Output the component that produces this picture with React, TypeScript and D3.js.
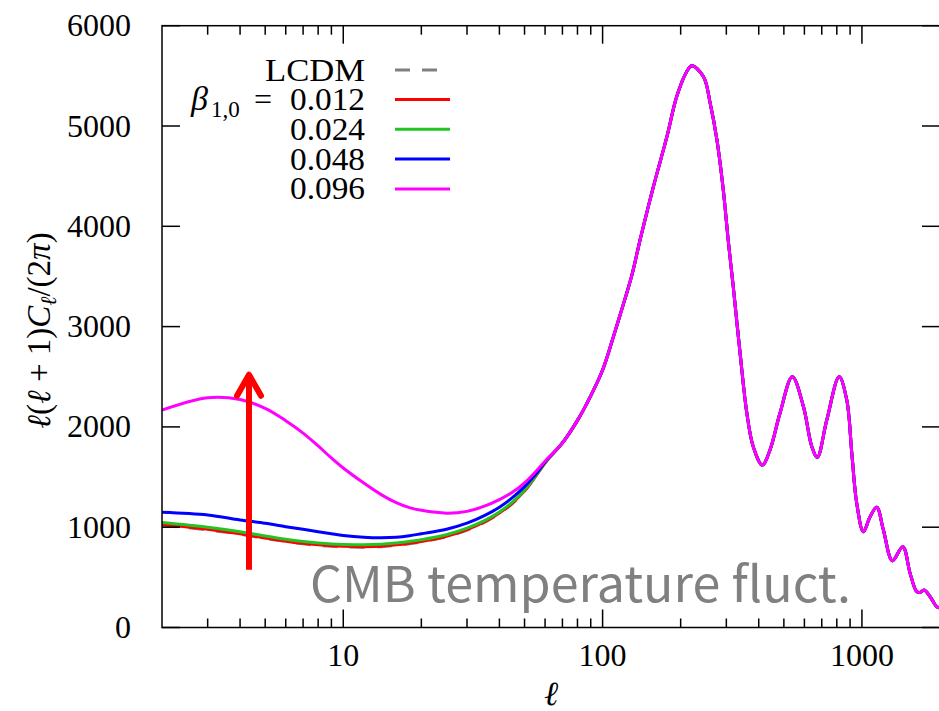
import React from "react";
import * as d3 from "d3";

// multipoles (low-ℓ part, series differ)
const ELL_LOW = [2, 3, 4, 5, 6, 7, 8, 9, 10, 12, 14, 16, 18, 20, 25, 30, 35, 40, 45, 50, 55, 60];
const LCDM_LOW = [1020, 973, 930, 888, 856, 834, 819, 809, 804, 801, 806, 819, 835, 853, 905, 972, 1048, 1138, 1238, 1360, 1500, 1640];
const B012_LOW = [1027, 980, 935, 893, 861, 839, 824, 814, 809, 806, 811, 824, 840, 858, 910, 977, 1053, 1142, 1242, 1362, 1502, 1642];
const B024_LOW = [1047, 1000, 955, 912, 880, 858, 843, 833, 828, 825, 830, 843, 858, 875, 925, 990, 1065, 1152, 1252, 1368, 1505, 1645];
const B048_LOW = [1149, 1122, 1072, 1039, 1005, 979, 955, 935, 918, 900, 895, 900, 915, 935, 980, 1040, 1115, 1200, 1297, 1405, 1522, 1650];
const B096_LOW = [2168, 2291, 2273, 2185, 2062, 1938, 1810, 1690, 1590, 1440, 1325, 1245, 1195, 1168, 1140, 1158, 1210, 1275, 1350, 1442, 1550, 1658];

// common high-ℓ part (all series coincide)
const ELL_HIGH = [70, 80, 90, 100, 110, 120, 130, 140, 157, 177, 193, 211, 221, 245, 260, 276, 292, 305, 319, 339, 360, 381, 413, 442, 483, 539, 595, 641, 673, 732, 817, 874, 914, 955, 1013, 1075, 1141, 1210, 1311, 1437, 1534, 1627, 1680, 1737, 1832, 1944, 2000];
const VAL_HIGH = [1840, 2065, 2310, 2567, 2896, 3215, 3524, 3883, 4395, 4893, 5292, 5541, 5600, 5491, 5226, 4860, 4362, 3863, 3398, 2734, 2136, 1803, 1620, 1770, 2136, 2500, 2201, 1803, 1697, 2069, 2500, 2268, 1737, 1238, 955, 1105, 1198, 972, 666, 806, 540, 357, 350, 374, 307, 207, 195];

const Y_TICKS = [0, 1000, 2000, 3000, 4000, 5000, 6000];
const X_MAJOR = [10, 100, 1000];
const X_LABELS = ["10", "100", "1000"];
const LEGEND_VALUES = ["0.012", "0.024", "0.048", "0.096"];
const ARROW = { l: 4.33, from: 575, to: 2520 };

const SERIES = [
  { name: "LCDM", low: LCDM_LOW, color: "#808080", dash: "15,12" },
  { name: "0.012", low: B012_LOW, color: "#ff0000", dash: null },
  { name: "0.024", low: B024_LOW, color: "#22c322", dash: null },
  { name: "0.048", low: B048_LOW, color: "#0000ff", dash: null },
  { name: "0.096", low: B096_LOW, color: "#ff00ff", dash: null },
];

const W = 939, H = 711;
const L = 162, R = 940, T = 25.7, B = 627.5;

const serif = '"Liberation Serif", "Times New Roman", Tinos, "DejaVu Serif", serif';

export default function App() {
  const x = d3.scaleLog().domain([2, 2000]).range([L, R]);
  const y = d3.scaleLinear().domain([0, 6000]).range([B, T]);
  const line = d3
    .line<[number, number]>()
    .x((d) => x(d[0]))
    .y((d) => y(d[1]))
    .curve(d3.curveCatmullRom.alpha(0.5));

  const minor: number[] = [];
  [1, 10, 100].forEach((dec) => {
    for (let k = 2; k <= 9; k++) {
      const v = k * dec;
      if (v > 2 && v < 2000) minor.push(v);
    }
  });

  const ax = { stroke: "#000", strokeWidth: 1.5, fill: "none" };
  const txt: React.CSSProperties = { fontFamily: serif, fontSize: 32 };

  return (
    <svg
      width={W}
      height={H}
      style={{ position: "fixed", left: 0, top: 0, background: "#fff" }}
    >
      <defs>
        <clipPath id="plot">
          <rect x={L} y={T} width={R - L} height={B - T} />
        </clipPath>
      </defs>
      <rect x={0} y={0} width={W} height={H} fill="#fff" />

      {/* curves */}
      <g clipPath="url(#plot)">
        {SERIES.map((s) => {
          const pts: [number, number][] = [
            ...ELL_LOW.map((l, i) => [l, s.low[i]] as [number, number]),
            ...ELL_HIGH.map((l, i) => [l, VAL_HIGH[i]] as [number, number]),
          ];
          return (
            <path
              key={s.name}
              d={line(pts) || ""}
              fill="none"
              stroke={s.color}
              strokeWidth={3}
              strokeDasharray={s.dash || undefined}
            />
          );
        })}
      </g>

      {/* frame */}
      <rect x={L} y={T} width={R - L} height={B - T} {...ax} />

      {/* y ticks */}
      {Y_TICKS.map((t) => (
        <g key={"y" + t}>
          <line x1={L} x2={L + 18} y1={y(t)} y2={y(t)} {...ax} />
          <line x1={R - 18} x2={R} y1={y(t)} y2={y(t)} {...ax} />
          <text x={131} y={y(t) + 10.5} textAnchor="end" style={txt} fill="#000">
            {t}
          </text>
        </g>
      ))}

      {/* x ticks */}
      {X_MAJOR.map((t, i) => (
        <g key={"x" + t}>
          <line x1={x(t)} x2={x(t)} y1={B} y2={B - 18} {...ax} />
          <line x1={x(t)} x2={x(t)} y1={T} y2={T + 18} {...ax} />
          <text x={x(t)} y={666} textAnchor="middle" style={txt} fill="#000">
            {X_LABELS[i]}
          </text>
        </g>
      ))}
      {minor.map((t) => (
        <g key={"m" + t}>
          <line x1={x(t)} x2={x(t)} y1={B} y2={B - 9} {...ax} />
          <line x1={x(t)} x2={x(t)} y1={T} y2={T + 9} {...ax} />
        </g>
      ))}

      {/* axis labels */}
      <text
        x={(L + R) / 2}
        y={705}
        textAnchor="middle"
        style={{ fontFamily: serif, fontSize: 34, fontStyle: "italic" }}
        fill="#000"
      >
        ℓ
      </text>
      <text
        transform={`translate(50, ${(T + B) / 2 + 4}) rotate(-90)`}
        textAnchor="middle"
        style={{ fontFamily: serif, fontSize: 33 }}
        fill="#000"
      >
        <tspan fontStyle="italic">ℓ</tspan>(<tspan fontStyle="italic">ℓ</tspan> + 1)
        <tspan fontStyle="italic">C</tspan>
        <tspan fontStyle="italic" fontSize={22} dy={6}>ℓ</tspan>
        <tspan dy={-6}>/(2</tspan>
        <tspan fontStyle="italic">π</tspan>)
      </text>

      {/* legend */}
      <g style={txt} fill="#000">
        <text x={365} y={80.5} textAnchor="end" textLength={100} lengthAdjust="spacingAndGlyphs">
          LCDM
        </text>
        <line x1={395} x2={438} y1={70} y2={70} stroke="#808080" strokeWidth={3} strokeDasharray="15,12" />
        {LEGEND_VALUES.map((v, i) => {
          const cy = 99.5 + i * 29.8;
          const s = SERIES[i + 1];
          return (
            <g key={v}>
              {i === 0 && (
                <>
                  <text x={191} y={cy + 10.5} fontStyle="italic" style={{ fontFamily: serif, fontSize: 34 }}>β</text>
                  <text x={211} y={cy + 17} style={{ fontFamily: serif, fontSize: 23 }}>1,0</text>
                  <text x={254} y={cy + 10.5}>=</text>
                </>
              )}
              <text x={365} y={cy + 10.5} textAnchor="end" textLength={75} lengthAdjust="spacingAndGlyphs">
                {v}
              </text>
              <line x1={395} x2={450} y1={cy} y2={cy} stroke={s.color} strokeWidth={3} />
            </g>
          );
        })}
      </g>

      {/* annotation arrow */}
      <g stroke="#ff0000" strokeWidth={6} fill="none" strokeLinecap="round" strokeLinejoin="round">
        <line x1={x(ARROW.l)} x2={x(ARROW.l)} y1={y(ARROW.from)} y2={y(ARROW.to) + 3} strokeLinecap="butt" />
        <polyline
          points={`${x(ARROW.l) - 12},${y(ARROW.to) + 21} ${x(ARROW.l)},${y(ARROW.to)} ${x(ARROW.l) + 12},${y(ARROW.to) + 21}`}
        />
      </g>

      <text
        x={310}
        y={602}
        style={{ fontFamily: '"Noto Sans CJK JP", "Noto Sans", sans-serif', fontSize: 49 }}
        fill="#808080"
        textLength={541}
        lengthAdjust="spacingAndGlyphs"
      >
        CMB temperature fluct.
      </text>
    </svg>
  );
}
